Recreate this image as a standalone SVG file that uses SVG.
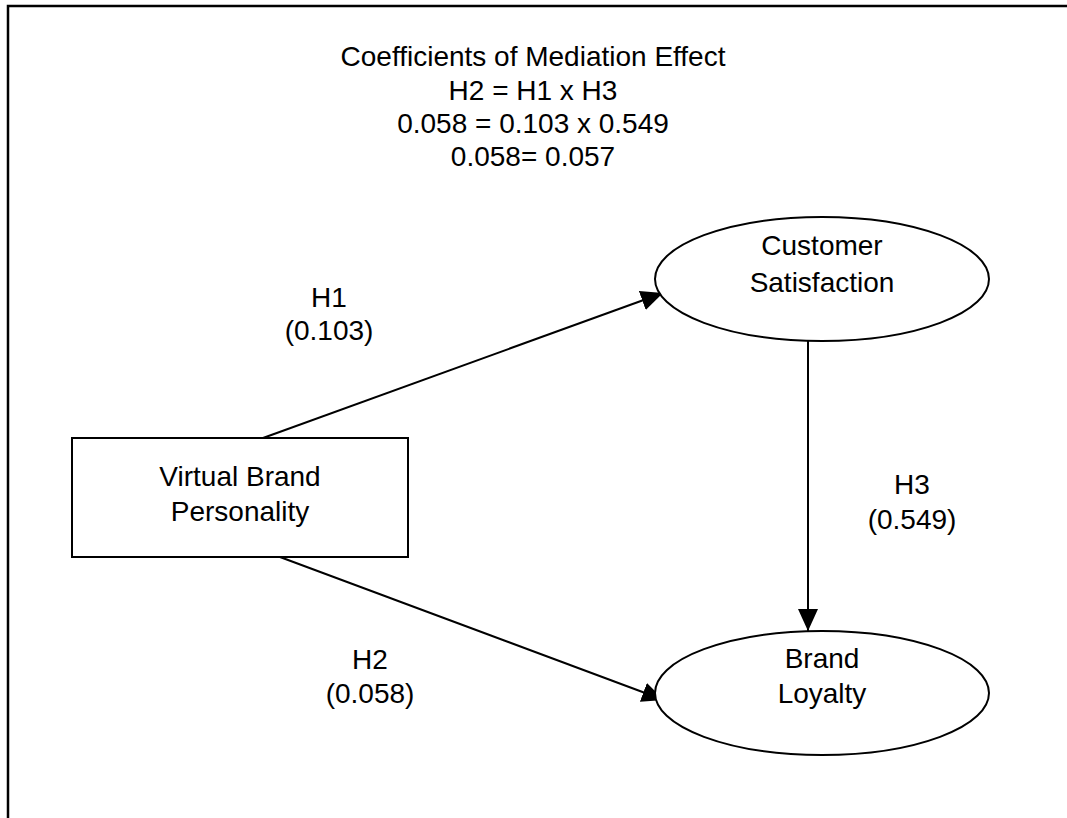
<svg xmlns="http://www.w3.org/2000/svg" width="1067" height="818" viewBox="0 0 1067 818">
<style>
text{font-family:"Liberation Sans",Arial,sans-serif;font-size:28px;fill:#000;text-anchor:middle}
.shape{fill:#fff;stroke:#000;stroke-width:2}
.conn{stroke:#000;stroke-width:2;fill:none}
</style>
<defs>
<marker id="arr" markerWidth="22" markerHeight="20" refX="22" refY="10" orient="auto" markerUnits="userSpaceOnUse">
<path d="M0,0 L22,10 L0,20 Z" fill="#000"/>
</marker>
</defs>
<rect width="1067" height="818" fill="#fff"/>
<g id="frame">
<path d="M8,818 L8,6 L1067,6" fill="none" stroke="#000" stroke-width="2.5"/>
</g>
<g id="title">
<text x="533" y="66">Coefficients of Mediation Effect</text>
<text x="533" y="100">H2 = H1 x H3</text>
<text x="533" y="133">0.058 = 0.103 x 0.549</text>
<text x="533" y="166">0.058= 0.057</text>
</g>
<g id="connectors">
<line class="conn" x1="263" y1="438" x2="663" y2="293" marker-end="url(#arr)"/>
<line class="conn" x1="280" y1="557" x2="664" y2="700" marker-end="url(#arr)"/>
<line class="conn" x1="808" y1="341" x2="808" y2="631" marker-end="url(#arr)"/>
</g>
<g id="vbp">
<rect class="shape" x="72" y="438" width="336" height="119"/>
<text x="240" y="486">Virtual Brand</text>
<text x="240" y="521">Personality</text>
</g>
<g id="cs">
<ellipse class="shape" cx="822" cy="279" rx="167" ry="62"/>
<text x="822" y="255">Customer</text>
<text x="822" y="292">Satisfaction</text>
</g>
<g id="bl">
<ellipse class="shape" cx="822" cy="693" rx="167" ry="62"/>
<text x="822" y="668">Brand</text>
<text x="822" y="703">Loyalty</text>
</g>
<g id="labels">
<text x="329" y="307">H1</text>
<text x="329" y="340">(0.103)</text>
<text x="370" y="669">H2</text>
<text x="370" y="703">(0.058)</text>
<text x="912" y="494">H3</text>
<text x="912" y="529">(0.549)</text>
</g>
</svg>
